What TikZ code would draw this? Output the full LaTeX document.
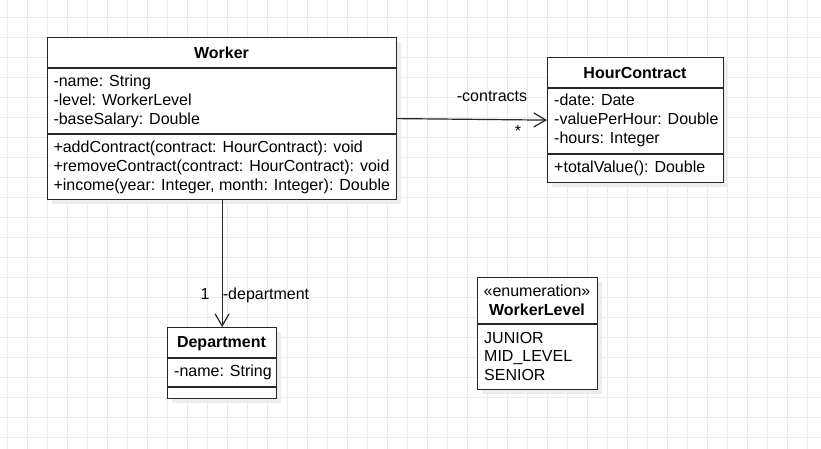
\documentclass[tikz,border=0pt]{standalone}
\usepackage{fontspec}
\setmainfont{Liberation Sans}
\usetikzlibrary{arrows.meta}
\begin{document}
\begin{tikzpicture}[x=1pt,y=-1pt,
  gridline/.style={draw=black!8, line width=0.8pt},
  box/.style={draw=black!85, line width=1.2pt, fill=white, anchor=north west, inner sep=0pt},
  shade/.style={fill=black!7, draw=none, anchor=north west, inner sep=0pt},
  sepline/.style={draw=black!85, line width=1.2pt},
  txt/.style={anchor=base west, inner sep=0pt, font=\fontsize{16}{19.2}\selectfont},
  ttl/.style={anchor=base, inner sep=0pt, font=\fontsize{16}{19.2}\selectfont\bfseries},
  lbl/.style={inner sep=0pt, font=\fontsize{16}{19.2}\selectfont},
  assoc/.style={line width=1.2pt, draw=black!85, -{Straight Barb[length=12pt,width=14pt,line width=1.2pt]}}
]
% background and grid
\fill[white] (0,0) rectangle (821,449);
\useasboundingbox (0,0) rectangle (821,449);
\foreach \x in {7,27,...,807} \draw[gridline] (\x,0) -- (\x,449);
\foreach \y in {17,37,...,437} \draw[gridline] (0,\y) -- (821,\y);

% shadows
\node[shade, minimum width=349, minimum height=162] at (52,42) {};
\node[shade, minimum width=176, minimum height=125] at (552,62) {};
\node[shade, minimum width=109, minimum height=71] at (172,332) {};
\node[shade, minimum width=120, minimum height=112] at (482,282) {};

% Worker
\node[box, minimum width=349, minimum height=162] (worker) at (47,37) {};
\draw[sepline] (47,68) -- (396,68);
\draw[sepline] (47,134) -- (396,134);
\node[ttl] (workerT) at (221.5,58.3) {Worker};
\node[txt] (wa1) at (53.3,86.7) {-name: String};
\node[txt] (wa2) at (53.3,105.7) {-level: WorkerLevel};
\node[txt] (wa3) at (53.3,124.7) {-baseSalary: Double};
\node[txt] (wm1) at (53.3,152.7) {+addContract(contract: HourContract): void};
\node[txt] (wm2) at (53.3,171.7) {+removeContract(contract: HourContract): void};
\node[txt] (wm3) at (53.3,190.7) {+income(year: Integer, month: Integer): Double};

% HourContract
\node[box, minimum width=176, minimum height=125] (hc) at (547,57) {};
\draw[sepline] (547,88) -- (723,88);
\draw[sepline] (547,154) -- (723,154);
\node[ttl] (hcT) at (635,78.3) {HourContract};
\node[txt] (ha1) at (554,106) {-date: Date};
\node[txt] (ha2) at (554,125) {-valuePerHour: Double};
\node[txt] (ha3) at (554,144) {-hours: Integer};
\node[txt] (hm1) at (554,172.7) {+totalValue(): Double};

% Department
\node[box, minimum width=109, minimum height=71] (dept) at (167,327) {};
\draw[sepline] (167,358) -- (276,358);
\draw[sepline] (167,387) -- (276,387);
\node[ttl] (deptT) at (221.5,347.3) {Department};
\node[txt] (da1) at (174,376) {-name: String};

% WorkerLevel
\node[box, minimum width=120, minimum height=112] (wl) at (477,277) {};
\draw[sepline] (477,324) -- (597,324);
\node[lbl, anchor=base] (wlS) at (537,296) {«enumeration»};
\node[ttl] (wlT) at (537,315) {WorkerLevel};
\node[txt] (wl1) at (484,343.3) {JUNIOR};
\node[txt] (wl2) at (484,361.7) {MID\_LEVEL};
\node[txt] (wl3) at (484,380) {SENIOR};

% associations
\draw[assoc] (worker.east) -- (hc.west);
\node[lbl, anchor=base] (lc) at (492,101.7) {-contracts};
\node[lbl] (lcm) at (518,131) {*};
\draw[assoc] (worker.south) -- (dept.north);
\node[lbl, anchor=base] (ld1) at (205,299.3) {1};
\node[lbl, anchor=base west] (ldn) at (222.7,299.3) {-department};
\end{tikzpicture}
\end{document}
